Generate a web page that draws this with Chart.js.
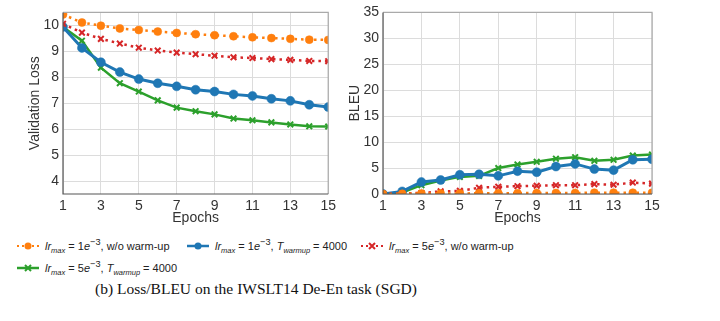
<!DOCTYPE html>
<html>
<head>
<meta charset="utf-8">
<script src="https://cdn.jsdelivr.net/npm/chart.js@4/dist/chart.umd.min.js"></script>
<style>
  body { margin: 0; background: #fff; width: 720px; height: 321px; position: relative; overflow: hidden; }
  .box { position: absolute; top: 0; height: 227px; }
  .leg { position: absolute; font-family: "Liberation Sans", Arial, sans-serif; font-size: 11px; color: #222; white-space: nowrap; display: flex; align-items: center; }
  .leg svg { margin-right: 5px; }
  .leg i sub, .leg i sup { font-size: 7.5px; }
  .caption { position: absolute; left: 0; width: 512px; top: 280px; text-align: center; font-family: "Liberation Serif", "Times New Roman", serif; font-size: 15.5px; color: #111; }
</style>
</head>
<body>
<div class="box" style="left:25px;width:315px"><canvas id="lossChart" width="315" height="227"></canvas></div>
<div class="box" style="left:345px;width:340px"><canvas id="bleuChart" width="340" height="227"></canvas></div>

<div class="leg" style="left:16px;top:237px">
  <svg width="24" height="12"><line x1="1" y1="6" x2="23" y2="6" stroke="#ff7f0e" stroke-width="2" stroke-dasharray="2,3"/><circle cx="12" cy="6" r="3.5" fill="#ff7f0e"/></svg>
  <span><i>lr<sub>max</sub></i> = 1<i>e</i><sup>−3</sup>, w/o warm-up</span>
</div>
<div class="leg" style="left:186px;top:237px">
  <svg width="24" height="12"><line x1="1" y1="6" x2="23" y2="6" stroke="#1f77b4" stroke-width="2.5"/><circle cx="12" cy="6" r="3.5" fill="#1f77b4"/></svg>
  <span><i>lr<sub>max</sub></i> = 1<i>e</i><sup>−3</sup>, <i>T<sub>warmup</sub></i> = 4000</span>
</div>
<div class="leg" style="left:360px;top:237px">
  <svg width="24" height="12"><line x1="1" y1="6" x2="23" y2="6" stroke="#d62728" stroke-width="2" stroke-dasharray="2,3"/><path d="M9 3 L15 9 M15 3 L9 9" stroke="#d62728" stroke-width="2"/></svg>
  <span><i>lr<sub>max</sub></i> = 5<i>e</i><sup>−3</sup>, w/o warm-up</span>
</div>
<div class="leg" style="left:16px;top:259px">
  <svg width="24" height="12"><line x1="1" y1="6" x2="23" y2="6" stroke="#2ca02c" stroke-width="2.5"/><path d="M9 3 L15 9 M15 3 L9 9" stroke="#2ca02c" stroke-width="2"/></svg>
  <span><i>lr<sub>max</sub></i> = 5<i>e</i><sup>−3</sup>, <i>T<sub>warmup</sub></i> = 4000</span>
</div>
<div class="caption">(b) Loss/BLEU on the IWSLT14 De-En task (SGD)</div>

<script>
const epochs = [1, 2, 3, 4, 5, 6, 7, 8, 9, 10, 11, 12, 13, 14, 15];

// validation loss
const lossLr1NoWarm = [10.42, 10.11, 9.99, 9.88, 9.82, 9.76, 9.71, 9.66, 9.62, 9.58, 9.54, 9.51, 9.48, 9.45, 9.44];
const lossLr1Warm   = [9.94, 9.13, 8.58, 8.20, 7.93, 7.77, 7.65, 7.52, 7.45, 7.34, 7.28, 7.17, 7.09, 6.94, 6.85];
const lossLr5NoWarm = [10.06, 9.72, 9.48, 9.30, 9.14, 9.03, 8.95, 8.89, 8.83, 8.77, 8.74, 8.70, 8.67, 8.63, 8.62];
const lossLr5Warm   = [9.94, 9.41, 8.37, 7.77, 7.45, 7.11, 6.83, 6.69, 6.57, 6.41, 6.34, 6.26, 6.18, 6.11, 6.10];

// BLEU
const bleuLr1NoWarm = [0.0, 0.05, 0.1, 0.1, 0.1, 0.15, 0.15, 0.15, 0.2, 0.2, 0.2, 0.25, 0.25, 0.25, 0.25];
const bleuLr1Warm   = [0.0, 0.5, 2.3, 2.7, 3.7, 3.8, 3.5, 4.4, 4.2, 5.3, 5.8, 4.8, 4.6, 6.6, 6.7];
const bleuLr5NoWarm = [0.0, 0.1, 0.2, 0.5, 0.6, 1.2, 1.4, 1.5, 1.6, 1.7, 1.7, 1.9, 1.8, 2.2, 2.0];
const bleuLr5Warm   = [0.0, 0.3, 1.7, 2.6, 3.3, 3.5, 5.0, 5.7, 6.2, 6.8, 7.1, 6.4, 6.6, 7.4, 7.6];

const xTicks = [1, 3, 5, 7, 9, 11, 13, 15];
const lossTicks = [4, 5, 6, 7, 8, 9, 10];
const bleuTicks = [0, 5, 10, 15, 20, 25, 30, 35];

const font = { family: "'Liberation Sans', Arial, sans-serif", size: 14 };
const tickColor = "#333";

const toXY = (vals) => vals.map((v, i) => ({ x: epochs[i], y: v }));

const makeSets = (a, b, c, d) => [
    { data: toXY(a), borderColor: "#ff7f0e", backgroundColor: "#ff7f0e", borderWidth: 2.5, borderDash: [2.5, 4],
      pointStyle: "circle", pointRadius: 4, pointBorderColor: "#ff7f0e", pointBorderWidth: 0.5 },
    { data: toXY(c), borderColor: "#d62728", backgroundColor: "#d62728", borderWidth: 2.5, borderDash: [2.5, 4],
      pointStyle: "crossRot", pointRadius: 4, pointBorderWidth: 2 },
    { data: toXY(b), borderColor: "#1f77b4", backgroundColor: "#1f77b4", borderWidth: 3,
      pointStyle: "circle", pointRadius: 4.5, pointBorderColor: "#1f77b4", pointBorderWidth: 0.5 },
    { data: toXY(d), borderColor: "#2ca02c", backgroundColor: "#2ca02c", borderWidth: 2.5,
      pointStyle: "crossRot", pointRadius: 4, pointBorderWidth: 2 },
];

// frame round the plot area: dark on left/bottom, lighter top/right
const frame = {
    id: "frame",
    afterDraw(chart) {
        const { ctx, chartArea: a } = chart;
        ctx.save();
        ctx.lineWidth = 1.2;
        ctx.strokeStyle = "#aaa";
        ctx.beginPath();
        ctx.moveTo(a.left, a.top); ctx.lineTo(a.right, a.top); ctx.lineTo(a.right, a.bottom);
        ctx.stroke();
        ctx.strokeStyle = "#555";
        ctx.beginPath();
        ctx.moveTo(a.left, a.top); ctx.lineTo(a.left, a.bottom); ctx.lineTo(a.right, a.bottom);
        ctx.stroke();
        ctx.restore();
    }
};

const makeChart = (id, sets, yMin, yMax, yTicks, yTitle, yWidth, padRight) => new Chart(document.getElementById(id), {
    type: "line",
    data: { datasets: sets },
    options: {
        responsive: false,
        animation: false,
        layout: { padding: { top: 12, right: padRight, left: 0, bottom: 0 } },
        plugins: { legend: { display: false }, tooltip: { enabled: false } },
        scales: {
            x: {
                type: "linear", min: 1, max: 15,
                afterBuildTicks: (axis) => { axis.ticks = xTicks.map(v => ({ value: v })); },
                afterFit: (axis) => { axis.height = 33; },
                ticks: { font: font, color: tickColor, padding: 4, maxRotation: 0 },
                grid: { color: "#dcdcdc", drawTicks: false },
                border: { display: false },
                title: { display: true, text: "Epochs", font: font, color: tickColor, padding: { top: 3, bottom: 0 } }
            },
            y: {
                min: yMin, max: yMax,
                afterBuildTicks: (axis) => { axis.ticks = yTicks.map(v => ({ value: v })); },
                afterFit: (axis) => { axis.width = yWidth; },
                ticks: { font: font, color: tickColor, padding: 4 },
                grid: { color: "#dcdcdc", drawTicks: false },
                border: { display: false },
                title: { display: true, text: yTitle, font: font, color: tickColor, padding: 2 }
            }
        }
    },
    plugins: [frame]
});

makeChart("lossChart", makeSets(lossLr1NoWarm, lossLr1Warm, lossLr5NoWarm, lossLr5Warm),
    3.5, 10.5, lossTicks, "Validation Loss", 38, 10);
makeChart("bleuChart", makeSets(bleuLr1NoWarm, bleuLr1Warm, bleuLr5NoWarm, bleuLr5Warm),
    0, 35, bleuTicks, "BLEU", 38, 33);
</script>
</body>
</html>
